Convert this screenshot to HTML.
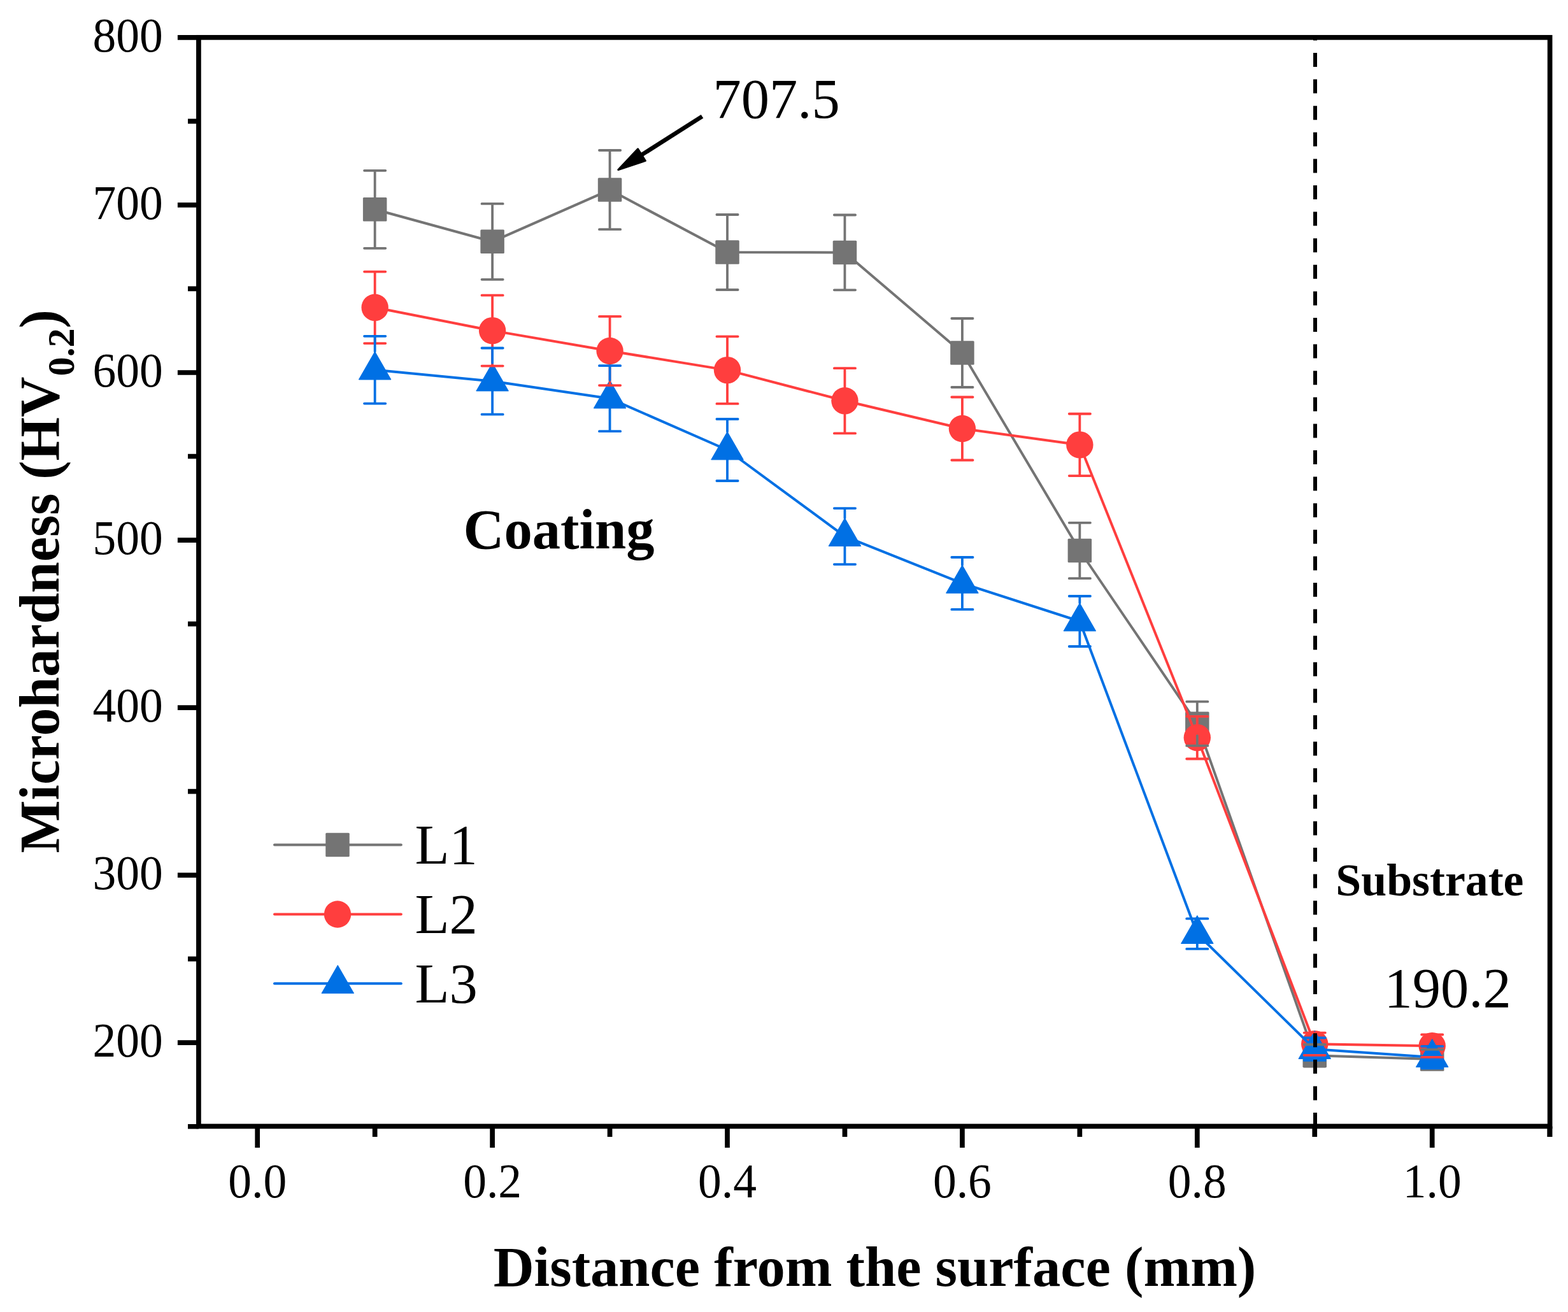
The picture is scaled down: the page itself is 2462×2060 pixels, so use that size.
<!DOCTYPE html>
<html><head><meta charset="utf-8"><title>Microhardness</title>
<style>html,body{margin:0;padding:0;background:#fff;width:2462px;height:2060px;overflow:hidden}svg{display:block}</style>
</head><body>
<svg width="2462" height="2060" viewBox="0 0 2462 2060">
<rect x="0" y="0" width="2462" height="2060" fill="#ffffff"/>
<polyline points="588.65,328.8 773.1,379.35 957.55,298.1 1142,396 1326.45,396.4 1510.9,554 1695.35,864.5 1879.8,1136.3 2064.25,1657.3 2248.7,1663.1" fill="none" stroke="#747474" stroke-width="4.0" stroke-linejoin="round" stroke-linecap="round"/>
<rect x="569.9" y="310.05" width="37.5" height="37.5" rx="1.5" fill="#747474"/>
<rect x="754.35" y="360.6" width="37.5" height="37.5" rx="1.5" fill="#747474"/>
<rect x="938.8" y="279.35" width="37.5" height="37.5" rx="1.5" fill="#747474"/>
<rect x="1123.25" y="377.25" width="37.5" height="37.5" rx="1.5" fill="#747474"/>
<rect x="1307.7" y="377.65" width="37.5" height="37.5" rx="1.5" fill="#747474"/>
<rect x="1492.15" y="535.25" width="37.5" height="37.5" rx="1.5" fill="#747474"/>
<rect x="1676.6" y="845.75" width="37.5" height="37.5" rx="1.5" fill="#747474"/>
<rect x="1861.05" y="1117.55" width="37.5" height="37.5" rx="1.5" fill="#747474"/>
<rect x="2045.5" y="1638.55" width="37.5" height="37.5" rx="1.5" fill="#747474"/>
<rect x="2229.95" y="1644.35" width="37.5" height="37.5" rx="1.5" fill="#747474"/>
<polyline points="588.65,482.8 773.1,519.15 957.55,551 1142,581.1 1326.45,629.3 1510.9,673 1695.35,698.4 1879.8,1158.2 2064.25,1639.2 2248.7,1642.2" fill="none" stroke="#FF3E3E" stroke-width="4.0" stroke-linejoin="round" stroke-linecap="round"/>
<circle cx="588.65" cy="482.8" r="21.2" fill="#FF3E3E"/>
<circle cx="773.1" cy="519.15" r="21.2" fill="#FF3E3E"/>
<circle cx="957.55" cy="551" r="21.2" fill="#FF3E3E"/>
<circle cx="1142" cy="581.1" r="21.2" fill="#FF3E3E"/>
<circle cx="1326.45" cy="629.3" r="21.2" fill="#FF3E3E"/>
<circle cx="1510.9" cy="673" r="21.2" fill="#FF3E3E"/>
<circle cx="1695.35" cy="698.4" r="21.2" fill="#FF3E3E"/>
<circle cx="1879.8" cy="1158.2" r="21.2" fill="#FF3E3E"/>
<circle cx="2064.25" cy="1639.2" r="21.2" fill="#FF3E3E"/>
<circle cx="2248.7" cy="1642.2" r="21.2" fill="#FF3E3E"/>
<polyline points="588.65,580.7 773.1,598.6 957.55,625.7 1142,706.5 1326.45,842.1 1510.9,915.95 1695.35,975.5 1879.8,1466.2 2064.25,1647.2 2248.7,1660.1" fill="none" stroke="#0070E4" stroke-width="4.0" stroke-linejoin="round" stroke-linecap="round"/>
<polygon points="588.65,552 563.35,596 613.95,596" fill="#0070E4" stroke="#0070E4" stroke-width="1" stroke-linejoin="round"/>
<polygon points="773.1,569.9 747.8,613.9 798.4,613.9" fill="#0070E4" stroke="#0070E4" stroke-width="1" stroke-linejoin="round"/>
<polygon points="957.55,597 932.25,641 982.85,641" fill="#0070E4" stroke="#0070E4" stroke-width="1" stroke-linejoin="round"/>
<polygon points="1142,677.8 1116.7,721.8 1167.3,721.8" fill="#0070E4" stroke="#0070E4" stroke-width="1" stroke-linejoin="round"/>
<polygon points="1326.45,813.4 1301.15,857.4 1351.75,857.4" fill="#0070E4" stroke="#0070E4" stroke-width="1" stroke-linejoin="round"/>
<polygon points="1510.9,887.25 1485.6,931.25 1536.2,931.25" fill="#0070E4" stroke="#0070E4" stroke-width="1" stroke-linejoin="round"/>
<polygon points="1695.35,946.8 1670.05,990.8 1720.65,990.8" fill="#0070E4" stroke="#0070E4" stroke-width="1" stroke-linejoin="round"/>
<polygon points="1879.8,1437.5 1854.5,1481.5 1905.1,1481.5" fill="#0070E4" stroke="#0070E4" stroke-width="1" stroke-linejoin="round"/>
<polygon points="2064.25,1618.5 2038.95,1662.5 2089.55,1662.5" fill="#0070E4" stroke="#0070E4" stroke-width="1" stroke-linejoin="round"/>
<polygon points="2248.7,1631.4 2223.4,1675.4 2274,1675.4" fill="#0070E4" stroke="#0070E4" stroke-width="1" stroke-linejoin="round"/>
<path d="M588.65 267.8V310.05M588.65 347.55V389.8M572.05 267.8H605.25M572.05 389.8H605.25M773.1 319.9V360.6M773.1 398.1V438.8M756.5 319.9H789.7M756.5 438.8H789.7M957.55 236V279.35M957.55 316.85V360.2M940.95 236H974.15M940.95 360.2H974.15M1142 337V377.25M1142 414.75V455M1125.4 337H1158.6M1125.4 455H1158.6M1326.45 337.5V377.65M1326.45 415.15V455.3M1309.85 337.5H1343.05M1309.85 455.3H1343.05M1510.9 500V535.25M1510.9 572.75V608M1494.3 500H1527.5M1494.3 608H1527.5M1695.35 820.8V845.75M1695.35 883.25V908.2M1678.75 820.8H1711.95M1678.75 908.2H1711.95M1879.8 1101.7V1117.55M1879.8 1155.05V1170.9M1863.2 1101.7H1896.4M1863.2 1170.9H1896.4M2047.65 1640H2080.85M2047.65 1674.6H2080.85M2232.1 1647.9H2265.3M2232.1 1678.3H2265.3" fill="none" stroke="#747474" stroke-width="3.8" stroke-linecap="round"/>
<path d="M588.65 426.55V461.6M588.65 504V539.05M572.05 426.55H605.25M572.05 539.05H605.25M773.1 463.7V497.95M773.1 540.35V574.6M756.5 463.7H789.7M756.5 574.6H789.7M957.55 496.9V529.8M957.55 572.2V605.1M940.95 496.9H974.15M940.95 605.1H974.15M1142 528.3V559.9M1142 602.3V633.9M1125.4 528.3H1158.6M1125.4 633.9H1158.6M1326.45 578.2V608.1M1326.45 650.5V680.4M1309.85 578.2H1343.05M1309.85 680.4H1343.05M1510.9 623.5V651.8M1510.9 694.2V722.5M1494.3 623.5H1527.5M1494.3 722.5H1527.5M1695.35 649.75V677.2M1695.35 719.6V747.05M1678.75 649.75H1711.95M1678.75 747.05H1711.95M1879.8 1124.9V1137M1879.8 1179.4V1191.5M1863.2 1124.9H1896.4M1863.2 1191.5H1896.4M2047.65 1621.6H2080.85M2047.65 1656.8H2080.85M2232.1 1624.5H2265.3M2232.1 1659.9H2265.3" fill="none" stroke="#FF3E3E" stroke-width="3.8" stroke-linecap="round"/>
<path d="M588.65 527.8V552M588.65 596V633.6M572.05 527.8H605.25M572.05 633.6H605.25M773.1 546.5V569.9M773.1 613.9V650.7M756.5 546.5H789.7M756.5 650.7H789.7M957.55 574.2V597M957.55 641V677.2M940.95 574.2H974.15M940.95 677.2H974.15M1142 658V677.8M1142 721.8V755M1125.4 658H1158.6M1125.4 755H1158.6M1326.45 798.1V813.4M1326.45 857.4V886.1M1309.85 798.1H1343.05M1309.85 886.1H1343.05M1510.9 875V887.25M1510.9 931.25V956.9M1494.3 875H1527.5M1494.3 956.9H1527.5M1695.35 936V946.8M1695.35 990.8V1015M1678.75 936H1711.95M1678.75 1015H1711.95M1879.8 1481.5V1489.95M1863.2 1442.45H1896.4M1863.2 1489.95H1896.4M2064.25 1662.5V1664.9M2047.65 1629.5H2080.85M2047.65 1664.9H2080.85M2248.7 1675.4V1677.3M2232.1 1642.9H2265.3M2232.1 1677.3H2265.3" fill="none" stroke="#0070E4" stroke-width="3.8" stroke-linecap="round"/>
<line x1="2065" y1="55" x2="2065" y2="1769" stroke="#000" stroke-width="6" stroke-dasharray="22 19.6" stroke-dashoffset="13.6"/>
<rect x="311.9" y="58.8" width="2121.7" height="1709.6" fill="none" stroke="#000" stroke-width="7.7"/>
<path d="M295 1768.73H311.9M278.9 1637.2H311.9M295 1505.68H311.9M278.9 1374.15H311.9M295 1242.63H311.9M278.9 1111.1H311.9M295 979.58H311.9M278.9 848.05H311.9M295 716.52H311.9M278.9 585H311.9M295 453.47H311.9M278.9 321.95H311.9M295 190.43H311.9M278.9 58.9H311.9M404.2 1768.4V1802M588.65 1768.4V1785M773.1 1768.4V1802M957.55 1768.4V1785M1142 1768.4V1802M1326.45 1768.4V1785M1510.9 1768.4V1802M1695.35 1768.4V1785M1879.8 1768.4V1802M2064.25 1768.4V1785M2248.7 1768.4V1802M2433.15 1768.4V1785M2433.6 1768.4V1785" stroke="#000" stroke-width="7.7" fill="none"/>
<line x1="431" y1="1326.4" x2="629.8" y2="1326.4" stroke="#747474" stroke-width="4.0" stroke-linecap="round"/>
<rect x="511.25" y="1307.65" width="37.5" height="37.5" rx="1.5" fill="#747474"/>
<line x1="431" y1="1435.5" x2="629.8" y2="1435.5" stroke="#FF3E3E" stroke-width="4.0" stroke-linecap="round"/>
<circle cx="530" cy="1435.5" r="21.2" fill="#FF3E3E"/>
<line x1="431" y1="1544.3" x2="629.8" y2="1544.3" stroke="#0070E4" stroke-width="4.0" stroke-linecap="round"/>
<polygon points="530.3,1515.6 505,1559.6 555.6,1559.6" fill="#0070E4" stroke="#0070E4" stroke-width="1" stroke-linejoin="round"/>
<line x1="1102.5" y1="182.7" x2="1005.78" y2="244.22" stroke="#000" stroke-width="6.6"/>
<polygon points="970.77,266.49 1001.57,233.87 1013.37,252.43" fill="#000" stroke="#000" stroke-width="3" stroke-linejoin="round"/>
<g style="font-family:&quot;Liberation Serif&quot;,&quot;Times New Roman&quot;,serif" fill="#000">
<text transform="translate(255.8 1659) scale(1 1.03)" text-anchor="end" font-size="73.5">200</text>
<text transform="translate(255.8 1395.95) scale(1 1.03)" text-anchor="end" font-size="73.5">300</text>
<text transform="translate(255.8 1132.9) scale(1 1.03)" text-anchor="end" font-size="73.5">400</text>
<text transform="translate(255.8 869.85) scale(1 1.03)" text-anchor="end" font-size="73.5">500</text>
<text transform="translate(255.8 606.8) scale(1 1.03)" text-anchor="end" font-size="73.5">600</text>
<text transform="translate(255.8 343.75) scale(1 1.03)" text-anchor="end" font-size="73.5">700</text>
<text transform="translate(255.8 80.7) scale(1 1.03)" text-anchor="end" font-size="73.5">800</text>
<text transform="translate(404.2 1879.8) scale(1 1.03)" text-anchor="middle" font-size="73.5">0.0</text>
<text transform="translate(773.1 1879.8) scale(1 1.03)" text-anchor="middle" font-size="73.5">0.2</text>
<text transform="translate(1142 1879.8) scale(1 1.03)" text-anchor="middle" font-size="73.5">0.4</text>
<text transform="translate(1510.9 1879.8) scale(1 1.03)" text-anchor="middle" font-size="73.5">0.6</text>
<text transform="translate(1879.8 1879.8) scale(1 1.03)" text-anchor="middle" font-size="73.5">0.8</text>
<text transform="translate(2248.7 1879.8) scale(1 1.03)" text-anchor="middle" font-size="73.5">1.0</text>
<text x="774.7" y="2018.6" font-size="88.5" font-weight="bold">Distance from the surface (mm)</text>
<g transform="translate(92,1339.4) rotate(-90)"><text x="0" y="0" font-size="87.9" font-weight="bold">Microhardness (HV</text><text x="749" y="24" font-size="60" font-weight="bold">0.2</text><text x="824" y="0" font-size="87.9" font-weight="bold">)</text></g>
<text x="1119.5" y="184.8" font-size="88.5">707.5</text>
<text x="2173.5" y="1581" font-size="88.5">190.2</text>
<text x="727.5" y="860.8" font-size="88.5" font-weight="bold">Coating</text>
<text x="2097.3" y="1406.4" font-size="71.8" font-weight="bold">Substrate</text>
<text x="651.4" y="1356" font-size="88.5">L1</text>
<text x="651.4" y="1465.1" font-size="88.5">L2</text>
<text x="651.4" y="1573.9" font-size="88.5">L3</text>
</g>
</svg>
</body></html>
